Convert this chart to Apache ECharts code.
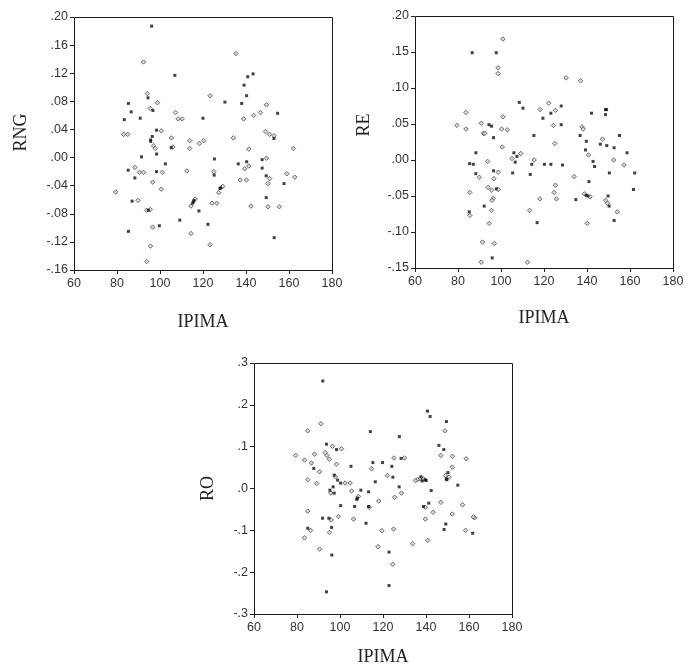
<!DOCTYPE html>
<html>
<head>
<meta charset="utf-8">
<script src="https://cdn.jsdelivr.net/npm/echarts@6/dist/echarts.min.js"></script>
<style>
  html, body { margin: 0; padding: 0; background: #fff; }
  #chart { width: 699px; height: 671px; }
</style>
</head>
<body>
<div id="chart"></div>
<script>
// Shared x axis ticks
const xTicks = [60, 80, 100, 120, 140, 160, 180];

// RNG against IPIMA: solid markers and hollow diamond markers
const rngSolid = [
  [96.1, .187], [106.9, .117], [143.3, .119], [140.8, .115], [139.1, .103], [140.3, .088],
  [138.0, .077], [94.4, .085], [85.3, .077], [130.2, .079], [96.7, .067], [86.6, .065],
  [154.7, .063], [83.4, .054], [90.8, .056], [120.0, .056], [98.4, .039], [96.4, .030],
  [95.6, .025], [95.7, .023], [153.0, .027], [105.2, .014], [91.4, .001], [98.4, .005],
  [125.3, -.002], [140.3, -.006], [147.5, -.003], [147.5, -.015], [136.4, -.009], [102.5, -.009],
  [85.2, -.018], [98.4, -.020], [125.2, -.025], [149.4, -.026], [157.7, -.037], [88.3, -.029],
  [128.3, -.043], [127.9, -.044], [87.0, -.062], [115.8, -.061], [115.5, -.063], [115.2, -.065],
  [94.6, -.075], [149.4, -.057], [118.1, -.076], [109.2, -.089], [122.3, -.095], [99.7, -.097],
  [85.3, -.105], [153.1, -.114]
];
const rngHollow = [
  [92.3, .136], [135.3, .148], [123.3, .088], [94.1, .091], [98.8, .078], [149.5, .075],
  [95.5, .070], [107.2, .064], [146.7, .064], [143.6, .060], [108.4, .055], [110.3, .055],
  [138.9, .055], [100.6, .038], [83.1, .033], [85.0, .033], [149.1, .037], [150.9, .033],
  [153.0, .031], [105.3, .028], [134.1, .028], [113.8, .024], [120.3, .024], [97.0, .017],
  [97.8, .013], [106.0, .015], [113.8, .013], [118.3, .020], [141.3, .012], [162.0, .013],
  [149.5, -.001], [141.3, -.012], [139.4, -.016], [88.3, -.014], [90.5, -.021], [92.3, -.021],
  [101.1, -.021], [112.5, -.019], [125.0, -.020], [137.3, -.032], [140.2, -.032], [151.0, -.030],
  [150.2, -.037], [159.0, -.023], [162.7, -.028], [96.6, -.035], [79.4, -.049], [100.6, -.045],
  [129.2, -.041], [127.3, -.050], [89.8, -.061], [116.4, -.059], [124.2, -.065], [126.4, -.065],
  [114.4, -.069], [142.3, -.069], [150.2, -.070], [155.5, -.070], [93.8, -.075], [95.5, -.074],
  [96.6, -.099], [114.4, -.108], [95.6, -.126], [123.3, -.124], [93.8, -.148]
];

// RE against IPIMA
const reSolid = [
  [86.6, .149], [97.8, .149], [108.5, .080], [128.0, .075], [148.6, .070], [149.1, .070],
  [110.2, .072], [123.2, .065], [142.1, .065], [148.6, .063], [119.5, .058], [94.4, .049],
  [95.6, .047], [128.0, .049], [136.8, .034], [115.3, .034], [155.1, .034], [139.7, .026],
  [146.2, .022], [149.2, .020], [96.5, .031], [152.6, .017], [139.3, .014], [88.3, .010],
  [106.0, .010], [107.4, .005], [158.6, .010], [106.6, -.003], [142.8, -.002], [85.4, -.005],
  [87.1, -.006], [114.3, -.006], [120.2, -.006], [123.2, -.006], [128.6, -.007], [143.5, -.009],
  [88.3, -.019], [96.5, -.015], [105.4, -.018], [113.6, -.020], [150.4, -.018], [162.2, -.018],
  [140.9, -.030], [97.8, -.040], [161.6, -.041], [139.6, -.049], [140.4, -.050], [149.8, -.050],
  [134.8, -.055], [150.3, -.064], [92.2, -.064], [85.2, -.072], [152.6, -.084], [116.8, -.087],
  [95.9, -.136]
];
const reHollow = [
  [100.9, .168], [98.6, .128], [98.6, .120], [130.3, .114], [137.0, .110], [122.2, .079],
  [125.3, .069], [118.2, .070], [83.7, .066], [100.9, .060], [79.5, .048], [90.8, .051],
  [124.4, .048], [83.7, .043], [91.9, .037], [92.4, .037], [100.3, .043], [102.9, .042],
  [137.7, .046], [138.2, .043], [147.2, .029], [125.0, .023], [100.6, .018], [109.2, .009],
  [140.7, .007], [105.1, .002], [115.4, .000], [152.4, .000], [93.8, -.002], [157.2, -.007],
  [89.9, -.024], [98.7, -.017], [134.0, -.023], [96.7, -.026], [125.3, -.035], [94.0, -.038],
  [98.7, -.041], [95.6, -.042], [85.5, -.045], [124.7, -.045], [138.8, -.047], [141.4, -.051],
  [96.4, -.053], [95.8, -.056], [118.1, -.054], [125.8, -.054], [148.6, -.056], [149.5, -.060],
  [95.6, -.070], [113.3, -.070], [154.1, -.072], [85.5, -.077], [94.5, -.088], [140.1, -.088],
  [91.4, -.114], [96.9, -.116], [90.8, -.142], [112.3, -.142]
];

// RO against IPIMA
const roSolid = [
  [92.0, .257], [140.7, .185], [141.9, .172], [149.5, .160], [114.1, .136], [127.6, .124],
  [93.7, .106], [146.0, .103], [98.4, .093], [148.3, .093], [128.4, .072], [115.3, .062],
  [119.8, .062], [105.1, .053], [124.1, .053], [87.8, .048], [150.2, .038], [97.3, .032],
  [137.7, .028], [139.6, .021], [138.2, .018], [140.1, .019], [124.6, .027], [149.4, .023],
  [149.7, .021], [98.9, .020], [100.3, .013], [116.4, .016], [154.8, .008], [96.8, .004],
  [127.5, .004], [95.3, -.004], [97.3, -.011], [109.7, -.004], [113.3, -.008], [142.4, -.005],
  [108.1, -.023], [107.8, -.026], [141.3, -.035], [100.3, -.041], [106.8, -.043], [113.3, -.043],
  [138.8, -.043], [94.8, -.071], [91.9, -.071], [112.1, -.083], [149.2, -.085], [96.1, -.093],
  [85.0, -.095], [148.4, -.098], [161.7, -.107], [122.8, -.152], [96.2, -.159], [122.8, -.232],
  [93.7, -.247]
];
const roHollow = [
  [91.1, .155], [85.0, .138], [148.8, .138], [96.5, .101], [100.7, .095], [79.4, .079],
  [88.1, .082], [93.1, .086], [93.9, .079], [146.9, .079], [152.3, .077], [158.7, .071],
  [125.1, .073], [130.0, .073], [83.5, .068], [95.0, .070], [86.7, .061], [98.4, .058],
  [152.2, .051], [114.7, .047], [90.5, .040], [122.0, .031], [97.9, .028], [149.1, .031],
  [137.1, .023], [138.8, .023], [136.0, .021], [135.1, .019], [150.7, .027], [102.4, .013],
  [104.7, .013], [85.0, .021], [89.2, .012], [95.7, -.011], [105.4, -.006], [128.6, -.011],
  [125.4, -.021], [108.6, -.019], [118.0, -.030], [146.9, -.033], [157.0, -.039], [113.6, -.045],
  [139.7, -.045], [85.0, -.054], [143.3, -.057], [152.2, -.061], [99.3, -.067], [162.6, -.070],
  [162.0, -.068], [106.3, -.073], [95.9, -.075], [139.7, -.073], [86.3, -.100], [119.5, -.101],
  [124.9, -.097], [158.4, -.100], [95.1, -.105], [83.5, -.118], [140.8, -.124], [90.5, -.145],
  [133.8, -.132], [117.7, -.139], [124.5, -.181]
];

// Axis ranges for each panel
const panels = [
  { name: 'RNG', yMin: -0.16, yMax: 0.20, yStep: 0.04, digits: 2, solid: rngSolid, hollow: rngHollow },
  { name: 'RE',  yMin: -0.15, yMax: 0.20, yStep: 0.05, digits: 2, solid: reSolid,  hollow: reHollow },
  { name: 'RO',  yMin: -0.3,  yMax: 0.3,  yStep: 0.1,  digits: 1, solid: roSolid,  hollow: roHollow }
];

// Plot-area boxes, name offsets and the upward shift of the y-axis name
const boxes = [
  { left: 74,  top: 17,  width: 258, height: 253, yGap: 44, xGap: 43, yShift: 22 },
  { left: 415, top: 16,  width: 258, height: 252, yGap: 42, xGap: 41, yShift: 34 },
  { left: 254, top: 363, width: 258, height: 251, yGap: 37, xGap: 34, yShift: 0 }
];

const tickFont = { fontFamily: 'Liberation Sans, Arial, sans-serif', fontSize: 12.5, color: '#333' };
const nameFont = { fontFamily: 'Liberation Serif, Times New Roman, serif', fontSize: 18, color: '#222' };

function fmt(digits) {
  return function (v) {
    return v.toFixed(digits).replace(/^(-?)0\./, '$1.');
  };
}

const grid = [], xAxis = [], yAxis = [], series = [];
panels.forEach(function (p, i) {
  const b = boxes[i];
  grid.push({ left: b.left, top: b.top, width: b.width, height: b.height });
  xAxis.push({
    type: 'value', gridIndex: i, position: 'bottom',
    min: xTicks[0], max: xTicks[xTicks.length - 1], interval: 20,
    name: 'IPIMA', nameLocation: 'middle', nameGap: b.xGap, nameTextStyle: nameFont,
    axisLine: { show: false, onZero: false },
    axisTick: { show: true, inside: false, length: 4, lineStyle: { color: '#222' } },
    axisLabel: Object.assign({ margin: 7 }, tickFont),
    splitLine: { show: false }
  });
  yAxis.push({
    type: 'value', gridIndex: i, position: 'left',
    min: p.yMin, max: p.yMax, interval: p.yStep,
    name: p.name, nameLocation: 'middle', nameGap: b.yGap, nameRotate: 90,
    nameTextStyle: Object.assign({ padding: [0, 0, 0, b.yShift] }, nameFont),
    axisLine: { show: false, onZero: false },
    axisTick: { show: true, inside: false, length: 4, lineStyle: { color: '#222' } },
    axisLabel: Object.assign({ margin: 6, formatter: fmt(p.digits) }, tickFont),
    splitLine: { show: false }
  });
  series.push({
    type: 'scatter', xAxisIndex: i, yAxisIndex: i, data: p.hollow,
    symbol: 'diamond', symbolSize: 4.5,
    itemStyle: { color: '#cfcfcf', borderColor: '#505050', borderWidth: 1 }
  });
  series.push({
    type: 'scatter', xAxisIndex: i, yAxisIndex: i, data: p.solid,
    symbol: 'rect', symbolSize: 3,
    itemStyle: { color: '#111' }
  });
});

const chart = echarts.init(document.getElementById('chart'), null, { renderer: 'canvas' });
chart.setOption({
  animation: false,
  backgroundColor: '#fff',
  grid: grid, xAxis: xAxis, yAxis: yAxis, series: series
});

// Frame around each plot area, placed through the axes' own scales
const frames = panels.map(function (p, i) {
  const a = chart.convertToPixel({ gridIndex: i }, [xTicks[0], p.yMax]);
  const c = chart.convertToPixel({ gridIndex: i }, [xTicks[xTicks.length - 1], p.yMin]);
  return {
    type: 'rect', silent: true, z: 100,
    shape: { x: Math.round(a[0]) + 0.5, y: Math.round(a[1]) + 0.5,
             width: Math.round(c[0] - a[0]), height: Math.round(c[1] - a[1]) },
    style: { fill: 'none', stroke: '#1a1a1a', lineWidth: 1 }
  };
});
chart.setOption({ graphic: frames });
</script>
</body>
</html>
